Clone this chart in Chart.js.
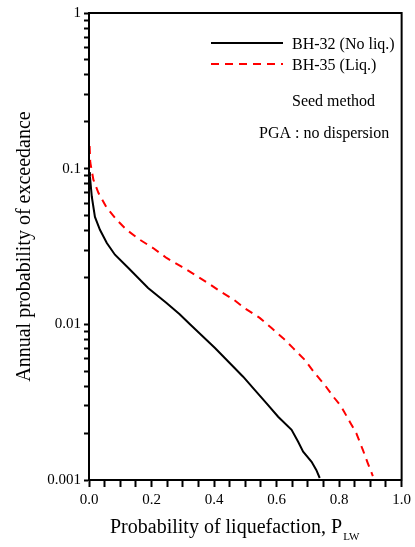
<!DOCTYPE html>
<html>
<head>
<meta charset="utf-8">
<script src="https://cdn.jsdelivr.net/npm/chart.js@4.4.1/dist/chart.umd.min.js"></script>
<style>
  html, body { margin: 0; padding: 0; background: #fff; }
  #wrap { position: relative; width: 415px; height: 547px; }
</style>
</head>
<body>
<div id="wrap"><canvas id="plPlot" width="415" height="547"></canvas></div>
<script>
// BH-32 (No liq.) - probability of liquefaction vs annual exceedance
var bh32P = [0.001, 0.003, 0.009, 0.019, 0.035, 0.057, 0.083, 0.126, 0.189, 0.248, 0.290, 0.323, 0.355, 0.403, 0.450, 0.493, 0.530, 0.568, 0.605, 0.648, 0.669, 0.685, 0.712, 0.727, 0.738];
var bh32Y = [0.095, 0.089, 0.066, 0.049, 0.0405, 0.0333, 0.028, 0.023, 0.0171, 0.0137, 0.0116, 0.0100, 0.0087, 0.00705, 0.00565, 0.00461, 0.00379, 0.00311, 0.00255, 0.0021, 0.00176, 0.00152, 0.00131, 0.00116, 0.00103];

// BH-35 (Liq.)
var bh35P = [0.002, 0.004, 0.014, 0.030, 0.057, 0.088, 0.120, 0.163, 0.205, 0.248, 0.296, 0.339, 0.381, 0.419, 0.461, 0.498, 0.546, 0.584, 0.621, 0.653, 0.690, 0.722, 0.754, 0.781, 0.807, 0.834, 0.855, 0.876, 0.892, 0.908];
var bh35Y = [0.14, 0.11, 0.085, 0.070, 0.056, 0.047, 0.0405, 0.0349, 0.0309, 0.0267, 0.0235, 0.0208, 0.0184, 0.0163, 0.0145, 0.0127, 0.0110, 0.00946, 0.00815, 0.00703, 0.00592, 0.00486, 0.00408, 0.00344, 0.00296, 0.00237, 0.0020, 0.00156, 0.00128, 0.00106];

var seriesLabels = ['BH-32 (No liq.)', 'BH-35 (Liq.)'];
var noteLines    = ['Seed method', 'PGA : no dispersion'];

var xTickLabels = ['0.0', '0.2', '0.4', '0.6', '0.8', '1.0'];
var yTickValues = [0.001, 0.01, 0.1, 1];
var yTickLabels = ['0.001', '0.01', '0.1', '1'];

var xTitle    = 'Probability of liquefaction, P';
var xTitleSub = 'LW';
var yTitle    = 'Annual probability of exceedance';

var serif = '"Liberation Serif", "Times New Roman", serif';

function toPoints(xs, ys) {
  return xs.map(function (x, i) { return { x: x, y: ys[i] }; });
}

// frame, legend, notes and the x title with its subscript
var decorPlugin = {
  id: 'decor',
  afterDraw: function (chart) {
    var ctx = chart.ctx;
    var a = chart.chartArea;
    ctx.save();
    ctx.strokeStyle = '#000';
    ctx.lineWidth = 2;
    ctx.strokeRect(a.left, a.top, a.right - a.left, a.bottom - a.top);

    // legend
    ctx.font = '16px ' + serif;
    ctx.fillStyle = '#000';
    ctx.textBaseline = 'middle';
    ctx.textAlign = 'left';
    var rows = [43, 64];
    chart.data.datasets.forEach(function (ds, i) {
      ctx.beginPath();
      ctx.strokeStyle = ds.borderColor;
      ctx.lineWidth = ds.borderWidth;
      ctx.setLineDash(ds.borderDash || []);
      ctx.moveTo(211, rows[i]);
      ctx.lineTo(283, rows[i]);
      ctx.stroke();
      ctx.setLineDash([]);
      ctx.fillText(ds.label, 292, rows[i] + 2);
    });

    ctx.fillText(noteLines[0], 292, 102);
    ctx.fillText(noteLines[1], 259, 134);

    // x axis title
    ctx.textBaseline = 'alphabetic';
    ctx.font = '20px ' + serif;
    ctx.fillText(xTitle, 110, 533);
    var w = ctx.measureText(xTitle).width;
    ctx.font = '11px ' + serif;
    ctx.fillText(xTitleSub, 110 + w + 1, 540);
    ctx.restore();
  }
};

new Chart(document.getElementById('plPlot'), {
  type: 'scatter',
  data: {
    datasets: [
      {
        label: seriesLabels[0],
        data: toPoints(bh32P, bh32Y),
        showLine: true,
        borderColor: '#000000',
        borderWidth: 2,
        pointRadius: 0,
        tension: 0
      },
      {
        label: seriesLabels[1],
        data: toPoints(bh35P, bh35Y),
        showLine: true,
        borderColor: '#ff0000',
        borderWidth: 2,
        borderDash: [8, 6],
        pointRadius: 0,
        tension: 0
      }
    ]
  },
  options: {
    responsive: false,
    animation: false,
    layout: { padding: { left: 0, right: 13, top: 13, bottom: 0 } },
    plugins: {
      legend: { display: false },
      tooltip: { enabled: false }
    },
    scales: {
      x: {
        type: 'linear',
        min: 0,
        max: 1,
        afterFit: function (scale) { scale.height = 67; },
        border: { display: true, color: '#000', width: 2 },
        grid: { drawOnChartArea: false, drawTicks: true, tickLength: 7, color: '#000', tickWidth: 2 },
        ticks: {
          stepSize: 0.05,
          autoSkip: false,
          maxRotation: 0,
          padding: 4,
          color: '#000',
          font: { family: serif, size: 15 },
          callback: function (value, index) {
            return index % 4 === 0 ? xTickLabels[index / 4] : '';
          }
        }
      },
      y: {
        type: 'logarithmic',
        min: 0.001,
        max: 1,
        afterFit: function (scale) { scale.width = 89; },
        afterBuildTicks: function (scale) {
          var t = [];
          for (var e = -3; e < 0; e++) {
            for (var m = 1; m < 10; m++) {
              t.push({ value: parseFloat((m * Math.pow(10, e)).toPrecision(6)) });
            }
          }
          t.push({ value: 1 });
          scale.ticks = t;
        },
        border: { display: true, color: '#000', width: 2 },
        grid: { drawOnChartArea: false, drawTicks: true, tickLength: 5, color: '#000', tickWidth: 2 },
        title: {
          display: true,
          text: yTitle,
          color: '#000',
          font: { family: serif, size: 20 },
          padding: { top: 13, bottom: 0 }
        },
        ticks: {
          autoSkip: false,
          padding: 3,
          color: '#000',
          font: { family: serif, size: 15 },
          callback: function (value) {
            for (var i = 0; i < yTickValues.length; i++) {
              if (Math.abs(value - yTickValues[i]) < yTickValues[i] * 1e-6) return yTickLabels[i];
            }
            return '';
          }
        }
      }
    }
  },
  plugins: [decorPlugin]
});
</script>
</body>
</html>
